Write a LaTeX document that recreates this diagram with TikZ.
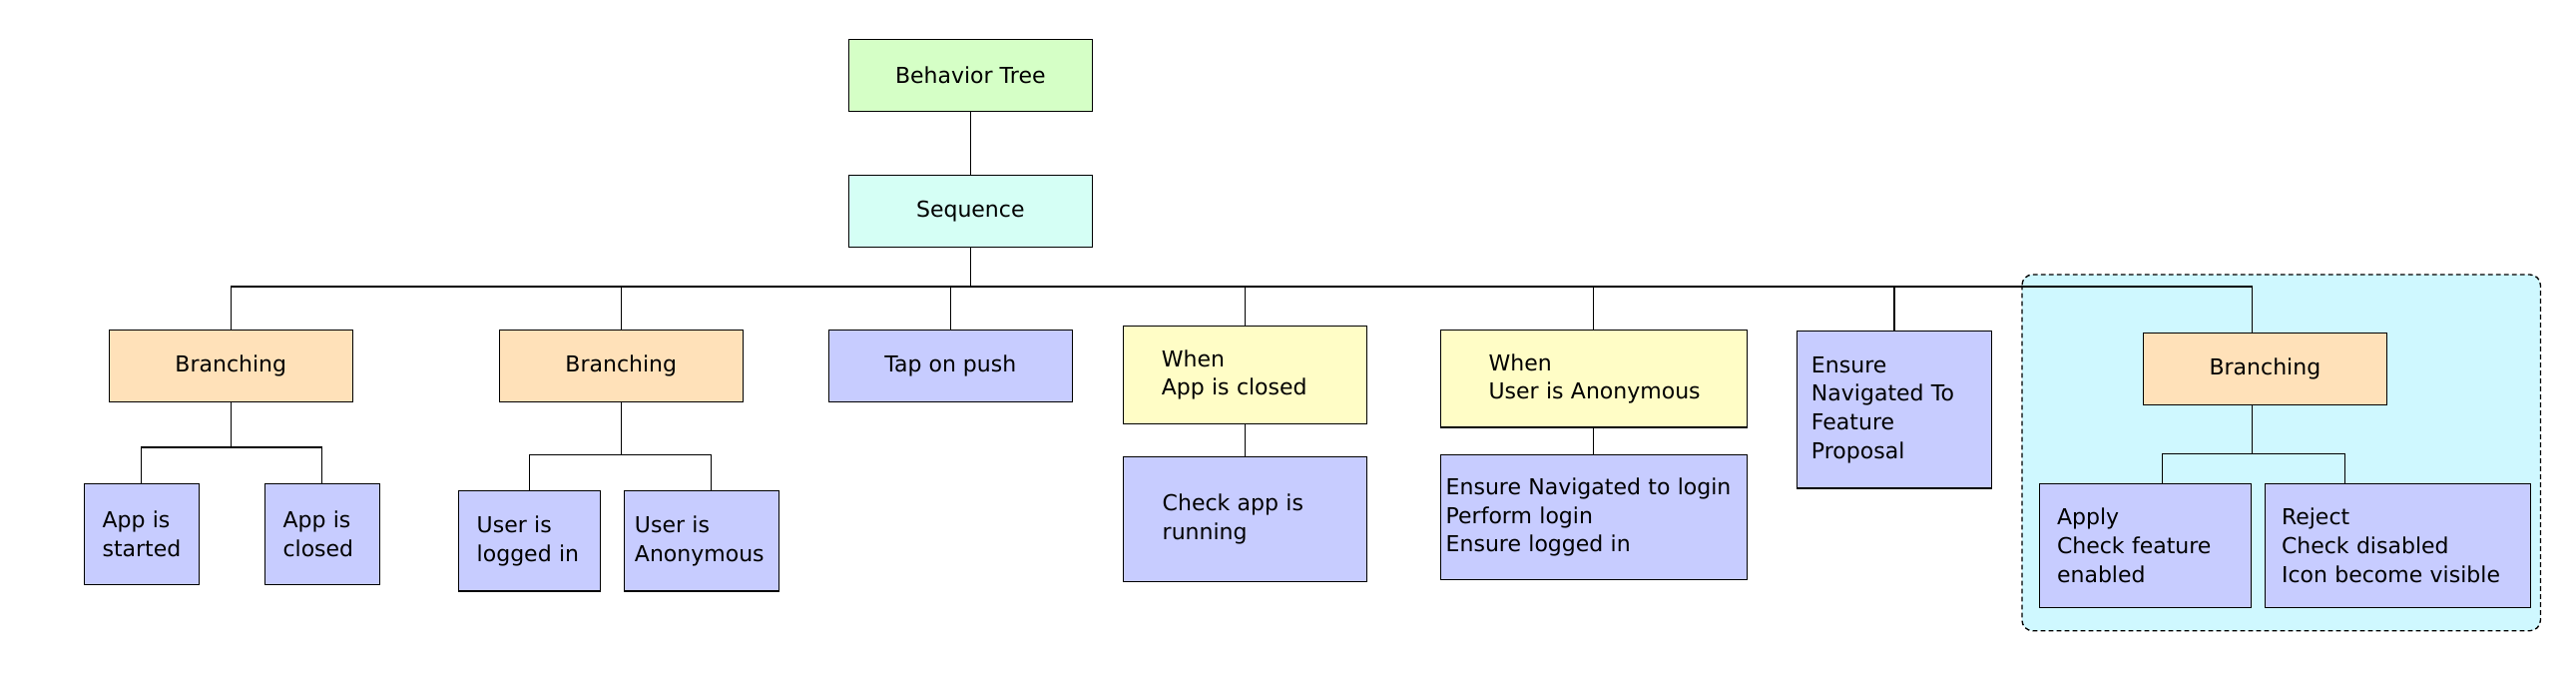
\documentclass[tikz,border=0pt]{standalone}
\usepackage{fontspec}
\setmainfont{DejaVu Sans}
\usepackage{xcolor}
\usepackage{tikz}

\definecolor{treegreen}{HTML}{D5FFC6}
\definecolor{seqcyan}{HTML}{D5FFF5}
\definecolor{branchorange}{HTML}{FFE1B9}
\definecolor{actionblue}{HTML}{C7CCFF}
\definecolor{whenyellow}{HTML}{FFFDC6}
\definecolor{groupcyan}{HTML}{CFF8FF}

\begin{document}
\begin{tikzpicture}[x=0.75pt,y=-0.75pt,
  font=\fontsize{16.5}{21.5}\selectfont,
  box/.style={draw, line width=1pt, inner sep=0pt, minimum width=183pt, minimum height=54pt},
  leaf/.style={draw, line width=1pt, fill=actionblue, align=left, inner ysep=0pt},
  link/.style={line width=0.8pt},
  grouparea/.style={draw, fill=groupcyan, line width=1pt, dash pattern=on 3.6pt off 2.4pt, rounded corners=8pt}]
\useasboundingbox (0,0) rectangle (2581,681);
\draw[grouparea] (2025.9,275) rectangle (2545.4,631.7);

\node[box, fill=treegreen] (tree) at (972.3,75.3) {Behavior Tree};
\node[box, fill=seqcyan] (seq) at (972.3,211.3) {Sequence};
\node[box, fill=branchorange] (br1) at (231.3,366.2) {Branching};
\node[box, fill=branchorange] (br2) at (622.3,366.2) {Branching};
\node[box, fill=actionblue] (tap) at (952.3,366.4) {Tap on push};
\node[box, fill=branchorange] (br3) at (2269.4,369.3) {Branching};

\node[leaf, text width=58.85pt, inner xsep=13.7pt, minimum height=75.75pt] (as) at (141.8,534.8) {App is\\started};
\node[leaf, text width=58.85pt, inner xsep=13.7pt, minimum height=75.75pt] (ac) at (322.8,534.8) {App is\\closed};
\node[leaf, text width=78.9pt, inner xsep=13.8pt, minimum height=75.2pt] (uli) at (530.3,541.8) {User is\\logged in};
\node[leaf, text width=100.25pt, inner xsep=8pt, minimum height=75.2pt] (uan) at (702.8,541.8) {User is\\Anonymous};
\node[leaf, fill=whenyellow, text width=125.55pt, inner xsep=28.8pt, minimum height=73.2pt] (wac) at (1247.5,375.5) {When\\App is closed};
\node[leaf, text width=124.15pt, inner xsep=29.5pt, minimum height=93.45pt] (car) at (1247.5,520) {Check app is\\running};
\node[leaf, fill=whenyellow, text width=158pt, inner xsep=36.15pt, minimum height=73pt] (wua) at (1596.9,379.3) {When\\\mbox{User is Anonymous}};
\node[leaf, text width=222.3pt, inner xsep=4pt, minimum height=93.45pt] (enl) at (1596.9,518) {Ensure Navigated to login\\Perform login\\Ensure logged in};
\node[leaf, text width=124.55pt, inner xsep=10.7pt, minimum height=118pt] (enf) at (1898,410.4) {Ensure\\Navigated To\\Feature\\Proposal};
\node[leaf, text width=132.4pt, inner xsep=13.3pt, minimum height=93pt] (apply) at (2149.3,546.3) {Apply\\Check feature\\enabled};
\node[leaf, text width=174.6pt, inner xsep=12.45pt, minimum height=93pt] (reject) at (2402.4,546.3) {Reject\\Check disabled\\Icon become visible};

% main bus
\coordinate (bus) at (972.3,287);
\coordinate (br3top) at (2256.4,333.3);
\draw[link] (tree) -- (seq);
\draw[link] (seq) -- (bus);
\draw[link] (br1.north) |- (bus) -| (br3top);
\foreach \n in {br2,tap,wac,wua,enf}
  \draw[link] (\n.north) -- (\n.north |- bus);
\draw[link] (wac) -- (car);
\draw[link] (wua) -- (enl);

% sub-trees
\coordinate (j1) at (231.3,448);
\draw[link] (br1) -- (j1);
\draw[link] (as.north) |- (j1) -| (ac.north);
\coordinate (j2) at (622.3,455.3);
\draw[link] (br2) -- (j2);
\draw[link] (uli.north) |- (j2) -| ([xshift=7.1pt]uan.north);
\coordinate (j3) at (2256.4,454.3);
\draw[link] (br3.south -| j3) -- (j3);
\draw[link] ([xshift=12.8pt]apply.north) |- (j3) -| ([xshift=-39.75pt]reject.north);
\end{tikzpicture}
\end{document}
